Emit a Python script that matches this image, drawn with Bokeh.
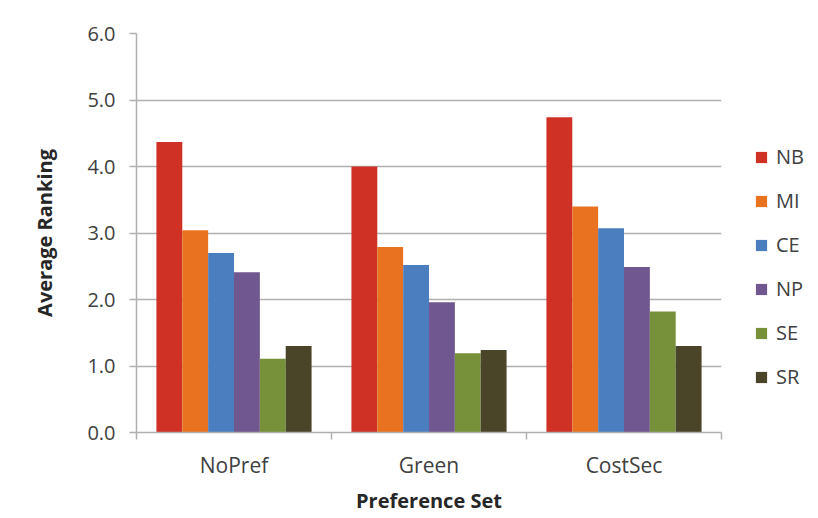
from bokeh.plotting import figure
from bokeh.models import ColumnDataSource, FixedTicker, Legend, LegendItem, Range1d, BoxAnnotation
from bokeh.transform import dodge
from bokeh.embed import file_html
from bokeh.resources import INLINE

groups = ["NoPref", "Green", "CostSec"]
series = ["NB", "MI", "CE", "NP", "SE", "SR"]
NB = [4.37, 4.00, 4.74]
MI = [3.04, 2.79, 3.40]
CE = [2.70, 2.52, 3.07]
NP = [2.41, 1.96, 2.49]
SE = [1.11, 1.19, 1.82]
SR = [1.30, 1.24, 1.30]
y_ticks = [0, 1, 2, 3, 4, 5, 6]

colors = ["#CF3224", "#E8721F", "#4A7EBF", "#71578F", "#769139", "#4A4428"]
values = {"NB": NB, "MI": MI, "CE": CE, "NP": NP, "SE": SE, "SR": SR}

FONT = "Open Sans"
TXT = "#404040"

centers = [i + 0.5 for i in range(len(groups))]
data = {"x": centers}
data.update(values)
src = ColumnDataSource(data)

p = figure(frame_width=585, frame_height=399, output_backend="svg",
           toolbar_location=None, x_range=Range1d(0, 3), y_range=Range1d(0, 6),
           min_border_left=136, min_border_top=33, min_border_right=89,
           min_border_bottom=78)

bw = 0.1326
renderers = []
for i, (s, c) in enumerate(zip(series, colors)):
    off = (i - 2.5) * bw
    r = p.vbar(x=dodge("x", off), top=s, width=bw, source=src,
               fill_color=c, line_color=None)
    renderers.append((s, r))

p.xaxis.ticker = FixedTicker(ticks=centers, minor_ticks=[0, 1, 2, 3])
p.xaxis.major_label_overrides = {c: g for c, g in zip(centers, groups)}
p.xaxis.major_tick_out = 0
p.xaxis.major_tick_in = 0
p.xaxis.minor_tick_out = 7
p.xaxis.minor_tick_in = 0
p.xaxis.minor_tick_line_color = "#B0B0B0"
p.xaxis.minor_tick_line_width = 1.5
p.xaxis.major_label_standoff = 11
p.xaxis.major_label_text_font_size = "21px"
p.xaxis.axis_label = "Preference Set"
p.xaxis.axis_label_standoff = 5

p.yaxis.ticker = FixedTicker(ticks=y_ticks)
p.yaxis.major_label_overrides = {t: f"{t:.1f}" for t in y_ticks}
p.yaxis.minor_tick_line_color = None
p.yaxis.major_tick_out = 7
p.yaxis.major_tick_in = 0
p.yaxis.major_tick_line_color = "#B0B0B0"
p.yaxis.major_tick_line_width = 1.5
p.yaxis.major_label_standoff = 14
p.yaxis.major_label_text_font_size = "20px"
p.yaxis.axis_label = "Average Ranking"
p.yaxis.axis_label_standoff = 26

for ax in (p.xaxis, p.yaxis):
    ax.axis_line_color = "#B0B0B0"
    ax.axis_line_width = 1.5
    ax.major_label_text_font = FONT
    ax.major_label_text_color = TXT
    ax.axis_label_text_font = FONT
    ax.axis_label_text_font_size = "20px"
    ax.axis_label_text_font_style = "bold"
    ax.axis_label_text_color = "#262626"

p.xgrid.grid_line_color = None
p.ygrid.ticker = FixedTicker(ticks=y_ticks)
p.ygrid.grid_line_color = "#B0B0B0"
p.ygrid.grid_line_width = 1.5
p.outline_line_color = None

border = BoxAnnotation(left=10, right=840, top=7, bottom=560,
                       left_units="canvas", right_units="canvas",
                       top_units="canvas", bottom_units="canvas",
                       fill_alpha=0, line_color="#C8C8C8", line_width=1.5)
p.add_layout(border)

legend = Legend(items=[LegendItem(label=s, renderers=[r]) for s, r in renderers],
                location=(33, 42), glyph_width=14, glyph_height=14,
                label_height=20, spacing=17, label_standoff=8, padding=0, margin=0,
                border_line_color=None, background_fill_alpha=0,
                label_text_font=FONT, label_text_font_size="20px",
                label_text_color=TXT)
p.add_layout(legend, "right")

open("out.html", "w").write(file_html(p, INLINE))
